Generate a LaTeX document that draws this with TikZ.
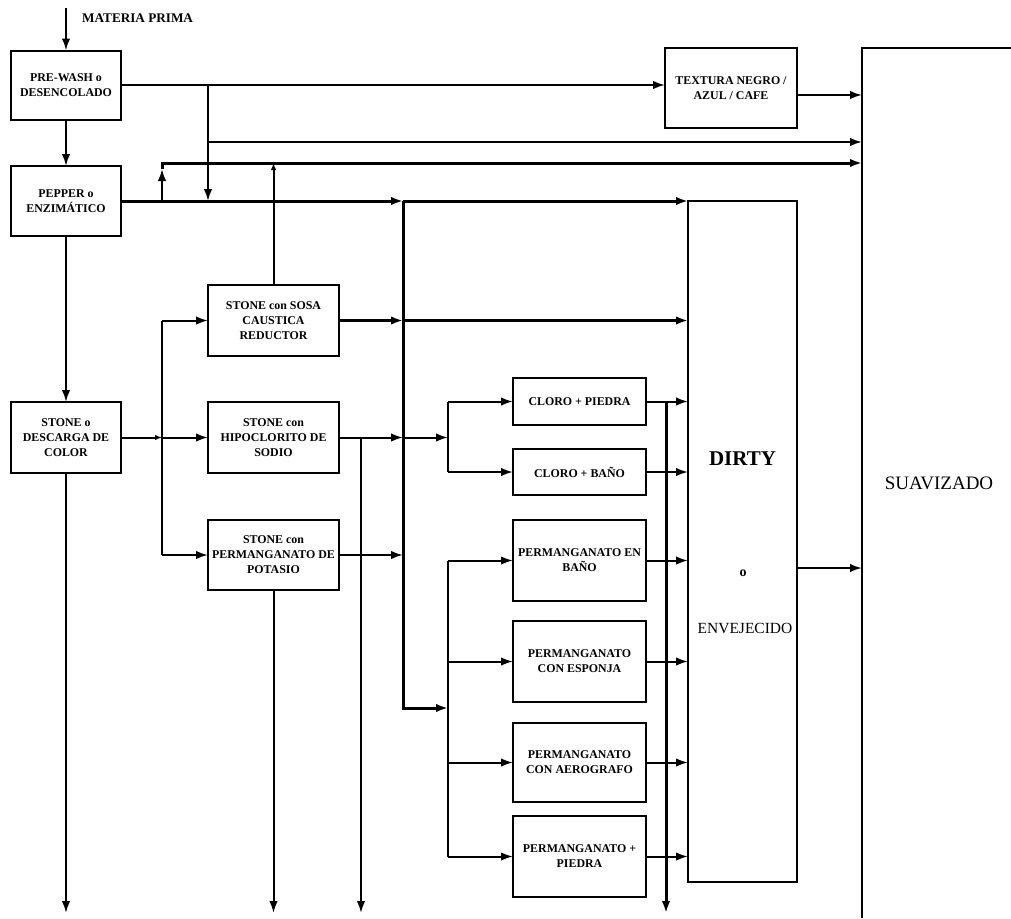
\documentclass[tikz,border=0pt]{standalone}
\usepackage{fontspec}
\setmainfont{Liberation Serif}
\usetikzlibrary{arrows.meta,calc}
\begin{document}
\begin{tikzpicture}[x=1pt,y=-1pt,
 box/.style={draw,line width=2pt,inner sep=0pt,outer sep=0pt,align=center,font=\fontsize{11.9}{15}\selectfont\bfseries},
 ln/.style={line width=2pt},
 bus/.style={line width=3pt},
 arr/.style={-{Latex[length=12pt,width=8.5pt]}},
 sarr/.style={-{Latex[length=7pt,width=5.5pt]}},
]
\useasboundingbox (0,0) rectangle (1011,918);
% boxes
\node[box,minimum width=110pt,minimum height=69pt] (prewash) at (66,85) {PRE-WASH o\\DESENCOLADO};
\node[box,minimum width=110pt,minimum height=70pt] (pepper) at (66,201) {PEPPER o\\ENZIMÁTICO};
\node[box,minimum width=110pt,minimum height=71pt] (stone) at (66,437.5) {STONE o\\DESCARGA DE\\COLOR};
\node[box,minimum width=132pt,minimum height=80pt] (textura) at (731,88) {TEXTURA NEGRO /\\AZUL / CAFE};
\node[box,minimum width=131pt,minimum height=71pt] (sosa) at (273.5,320.5) {STONE con SOSA\\CAUSTICA\\REDUCTOR};
\node[box,minimum width=131pt,minimum height=71pt] (hipo) at (273.5,437.5) {STONE con\\HIPOCLORITO DE\\SODIO};
\node[box,minimum width=131pt,minimum height=70pt] (perm) at (273.5,555) {STONE con\\PERMANGANATO DE\\POTASIO};
\node[box,minimum width=133pt,minimum height=47pt] (cp) at (579.5,401.5) {CLORO + PIEDRA};
\node[box,minimum width=133pt,minimum height=46pt] (cb) at (579.5,472) {CLORO + BAÑO};
\node[box,minimum width=133pt,minimum height=81pt] (pb) at (579.5,560.5) {PERMANGANATO EN\\BAÑO};
\node[box,minimum width=133pt,minimum height=81pt] (pe) at (579.5,661.5) {PERMANGANATO\\CON ESPONJA};
\node[box,minimum width=133pt,minimum height=79pt] (pa) at (579.5,762.5) {PERMANGANATO\\CON AEROGRAFO};
\node[box,minimum width=133pt,minimum height=81pt] (pp) at (579.5,856.5) {PERMANGANATO +\\PIEDRA};
\node[draw,line width=2pt,inner sep=0pt,outer sep=0pt,minimum width=109pt,minimum height=681pt] (dirty) at (742.5,541.5) {};
\node[font=\fontsize{21}{21}\selectfont\bfseries] (dtxt) at (742.5,459) {DIRTY};
\node[font=\fontsize{14}{14}\selectfont\bfseries] (otxt) at (743,573) {o};
\node[font=\fontsize{15.5}{15.5}\selectfont] (etxt) at (745,628) {ENVEJECIDO};
% suavizado
\coordinate (sl) at (862,48);
\draw[line width=2.2pt] (1011,48) -- (sl) -- (862,918);
\node[font=\fontsize{19}{19}\selectfont] (stxt) at (939,483) {SUAVIZADO};
% materia prima
\coordinate (mp) at (66,8);
\draw[ln,arr] (mp) -- (prewash.north);
\node[font=\fontsize{13.2}{13.2}\selectfont\bfseries,anchor=west,inner sep=0pt] (mptxt) at (82,18) {MATERIA PRIMA};
% main column
\coordinate (b1) at (66,913);
\draw[ln,arr] (prewash.south) -- (pepper.north);
\draw[ln,arr] (pepper.south) -- (stone.north);
\draw[ln,arr] (stone.south) -- (b1);
% prewash outputs
\draw[ln,arr] (prewash.east) -- (prewash.east -| textura.west);
\coordinate (j1) at (208,85);
\coordinate (j1b) at (208,201);
\draw[ln,arr] (j1) -- (j1b);
\coordinate (j2) at (208,142);
\draw[ln,arr] (j2) -- (j2 -| sl);
\coordinate (tout) at (797,95);
\draw[ln,arr] (tout) -- (tout -| sl);
% pepper outputs
\coordinate (bt) at (403,201);
\draw[bus,arr] (pepper.east) -- (bt);
\draw[bus,arr] (bt) -- (dirty.north west);
\coordinate (j3) at (162,201);
\coordinate (j3a) at (162,169);
\coordinate (j3b) at (162,163);
\draw[ln,arr] (j3) -- (j3a);
\draw[bus,arr] (j3a) -- (j3b) -- (j3b -| sl);
\draw[ln,sarr] (sosa.north) -- (sosa.north |- j3b);
% stone branches
\coordinate (j4) at (162,437.5);
\coordinate (j4t) at (162,320.5);
\coordinate (j4b) at (162,555);
\draw[ln,sarr] (stone.east) -- (j4);
\draw[ln,arr] (j4) -- (hipo.west);
\draw[ln] (j4t) -- (j4b);
\draw[ln,arr] (j4t) -- (sosa.west);
\draw[ln,arr] (j4b) -- (perm.west);
% main bus
\coordinate (mb1) at (403,320.5);
\coordinate (mb2) at (403,437.5);
\coordinate (mb3) at (403,555);
\coordinate (mb4) at (403,708);
\coordinate (ib) at (448,708);
\draw[bus,arr] (bt) -- (mb4) -- (ib);
\draw[bus,arr] (sosa.east) -- (mb1);
\draw[bus,arr] (mb1) -- (mb1 -| dirty.west);
\draw[ln,arr] (hipo.east) -- (mb2);
\coordinate (cj) at (448,437.5);
\draw[ln,arr] (mb2) -- (cj);
\draw[ln,arr] (perm.east) -- (mb3);
% hipo and perm downward outputs
\coordinate (hv) at (361,437.5);
\draw[ln,arr] (hv) -- (hv |- b1);
\draw[ln,arr] (perm.south) -- (perm.south |- b1);
% cloro bus
\coordinate (c1) at (448,401.5);
\coordinate (c2) at (448,472);
\draw[ln] (c1) -- (c2);
\draw[ln,arr] (c1) -- (cp.west);
\draw[ln,arr] (c2) -- (cb.west);
% permanganato bus
\coordinate (p1) at (448,560.5);
\coordinate (p2) at (448,661.5);
\coordinate (p3) at (448,762.5);
\coordinate (p4) at (448,856.5);
\draw[ln] (p1) -- (p4);
\draw[ln,arr] (p1) -- (pb.west);
\draw[ln,arr] (p2) -- (pe.west);
\draw[ln,arr] (p3) -- (pa.west);
\draw[ln,arr] (p4) -- (pp.west);
% outputs to dirty
\foreach \n in {cp,cb,pb,pe,pa,pp}{
  \draw[ln,arr] (\n.east) -- (\n.east -| dirty.west);
}
\coordinate (ov) at (666,401.5);
\draw[bus,arr] (ov) -- (ov |- b1);
% dirty to suavizado
\coordinate (dout) at (797,568);
\draw[ln,arr] (dout) -- (dout -| sl);
\end{tikzpicture}
\end{document}
